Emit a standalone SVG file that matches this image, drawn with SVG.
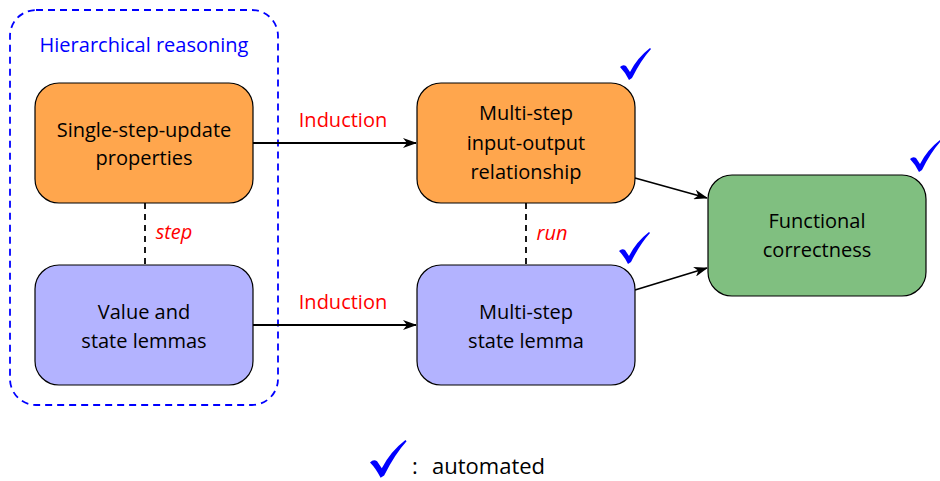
<svg xmlns="http://www.w3.org/2000/svg" width="940" height="481" viewBox="0 0 940 481">
<style>
text{font-family:"Open Sans","Liberation Sans",sans-serif;font-size:20px;fill:#000;text-anchor:middle}
.red{fill:#ff0000}
.it{font-style:italic}
.node{stroke:#000;stroke-width:1.2}
.or{fill:#ffa64d}
.bl{fill:#b3b3ff}
.gr{fill:#80bf80}
.dash{stroke:#000;stroke-width:1.8;stroke-dasharray:6,5;fill:none}
.arr{stroke:#000;stroke-width:1.8;fill:none;marker-end:url(#ah)}
.chk{fill:#0000ff}
</style>
<defs>
<marker id="ah" viewBox="0 0 14 10" refX="13" refY="5" markerWidth="14" markerHeight="10" markerUnits="userSpaceOnUse" orient="auto">
<path d="M0,0 L14,5 L0,10 L4,5 Z" fill="#000"/>
</marker>
<path id="tick" d="M0,19 Q3,16 6,18 L10,24 Q17,10 30,0 L31,1 Q21,12 12,30 L9,32 Q5,24 0,19 Z"/>
</defs>
<g id="group-box">
<rect x="10" y="10" width="268" height="395" rx="26" fill="none" stroke="#0000ff" stroke-width="1.8" stroke-dasharray="7,5"/>
<text x="144" y="52" style="fill:#0000ff">Hierarchical reasoning</text>
</g>
<g id="connectors">
<line class="dash" x1="145" y1="203" x2="145" y2="265"/>
<line class="dash" x1="526" y1="203" x2="526" y2="265"/>
<line class="arr" x1="253" y1="143" x2="416" y2="143"/>
<line class="arr" x1="253" y1="325" x2="416" y2="325"/>
<line class="arr" x1="635" y1="178" x2="707" y2="198"/>
<line class="arr" x1="635" y1="290" x2="707" y2="268"/>
<text class="red" x="343" y="127">Induction</text>
<text class="red" x="343" y="309">Induction</text>
<text class="red it" x="174" y="239">step</text>
<text class="red it" x="552" y="240">run</text>
</g>
<g id="single-step">
<rect class="node or" x="35" y="83" width="218" height="120" rx="24"/>
<text x="144" y="137">Single-step-update</text>
<text x="144" y="165">properties</text>
</g>
<g id="value-state">
<rect class="node bl" x="35" y="265" width="218" height="120" rx="24"/>
<text x="144" y="319">Value and</text>
<text x="144" y="348">state lemmas</text>
</g>
<g id="multi-io">
<rect class="node or" x="417" y="83" width="218" height="120" rx="24"/>
<text x="526" y="120">Multi-step</text>
<text x="526" y="150">input-output</text>
<text x="526" y="179">relationship</text>
</g>
<g id="multi-state">
<rect class="node bl" x="417" y="265" width="218" height="120" rx="24"/>
<text x="526" y="319">Multi-step</text>
<text x="526" y="348">state lemma</text>
</g>
<g id="functional">
<rect class="node gr" x="708" y="175" width="218" height="121" rx="24"/>
<text x="817" y="228">Functional</text>
<text x="817" y="257">correctness</text>
</g>
<g id="checks" class="chk">
<use href="#tick" transform="translate(620,48)"/>
<use href="#tick" transform="translate(910,140)"/>
<use href="#tick" transform="translate(619,232)"/>
<use href="#tick" transform="translate(370,440) scale(1.18)"/>
</g>
<g id="legend">
<text x="415" y="474" style="font-size:22px">:</text>
<text x="432" y="474" style="font-size:22px;text-anchor:start">automated</text>
</g>
</svg>
